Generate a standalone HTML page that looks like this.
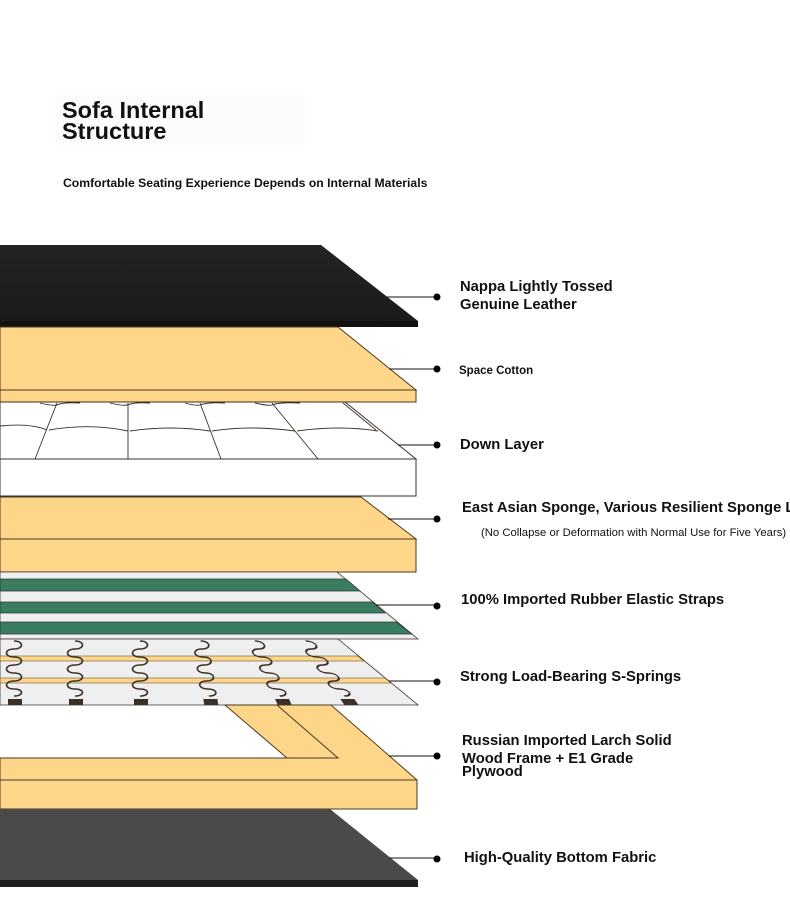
<!DOCTYPE html>
<html><head><meta charset="utf-8"><style>
html,body{margin:0;padding:0;background:#fff;width:790px;height:918px;overflow:hidden}
svg{display:block}
text{font-family:"Liberation Sans",Arial,sans-serif;fill:#111}
</style></head><body>
<svg width="790" height="918" viewBox="0 0 790 918" xmlns="http://www.w3.org/2000/svg">
<defs>
<linearGradient id="lea" x1="0" y1="0" x2="0" y2="1"><stop offset="0" stop-color="#232323"/><stop offset="1" stop-color="#1a1a1a"/></linearGradient>
<g id="spr"><path d="M0 641 c10 0 10 8 0 8 c-10 0 -10 8 0 8 c10 0 10 8 0 8 c-10 0 -10 8 0 8 c10 0 10 8 0 8 c-10 0 -10 8 0 8 c10 0 10 7 0 7" fill="none" stroke="#3a3028" stroke-width="1.6"/><rect x="-6" y="699" width="14" height="6" fill="#3a3028"/></g>
</defs>
<rect x="55" y="95" width="250" height="50" fill="#fcfcfc"/>
<text x="62" y="118" font-size="23.5" style="font-weight:600">Sofa Internal</text>
<text x="62" y="139" font-size="23.5" style="font-weight:600">Structure</text>
<text x="63" y="187" font-size="12.2" style="font-weight:600">Comfortable Seating Experience Depends on Internal Materials</text>

<!-- leather -->
<polygon points="0,245 321,245 418,321 418,327 0,327" fill="url(#lea)"/>
<rect x="0" y="321" width="418" height="6" fill="#111"/>
<!-- space cotton -->
<polygon points="0,327 338,327 416,390 0,390" fill="#fed68a" stroke="#4a3a20" stroke-width="1"/>
<rect x="0" y="390" width="416" height="12" fill="#fed68a" stroke="#4a3a20" stroke-width="1"/>
<!-- down -->
<polygon points="0,402 345,402 416,459 0,459" fill="#fff" stroke="#3a3028" stroke-width="1"/>
<rect x="0" y="459" width="416" height="37" fill="#fff" stroke="#3a3028" stroke-width="1"/>
<g fill="none" stroke="#3a3028" stroke-width="0.9">
<path d="M57 403 L35 459 M128 403 L128 459 M200 403 L221 459 M272 403 L318 459 M343 403 L376 430"/>
<path d="M0 426 Q30 423 47 430 M49 430 Q90 423 128 431 M130 431 Q170 425 210 431 M212 431 Q250 425 295 431 M297 431 Q340 425 378 431"/>
<path d="M40 403 Q52 406 57 405 Q64 402 80 403 M110 403 Q122 406 128 405 Q134 402 150 403 M185 403 Q196 406 200 405 Q208 402 225 403 M255 403 Q268 406 272 405 Q280 402 300 403"/>
</g>
<!-- sponge -->
<polygon points="0,497 361,497 416,539 0,539" fill="#fed68a" stroke="#4a3a20" stroke-width="1"/>
<rect x="0" y="539" width="416" height="33" fill="#fed68a" stroke="#4a3a20" stroke-width="1"/>
<!-- straps -->
<polygon points="0,572 337,572 418,639 0,639" fill="#efefef" stroke="#3a3028" stroke-width="0.8"/>
<polygon points="0,579 346,579 360,591 0,591" fill="#3a7c60" stroke="#2a3a30" stroke-width="0.8"/>
<polygon points="0,602 372,602 385,613 0,613" fill="#3a7c60" stroke="#2a3a30" stroke-width="0.8"/>
<polygon points="0,622 396,622 412,634 0,634" fill="#3a7c60" stroke="#2a3a30" stroke-width="0.8"/>
<!-- springs -->
<polygon points="0,639 338,639 418,705 0,705" fill="#efefef" stroke="#3a3028" stroke-width="0.8"/>
<polygon points="0,656 358,656 364,661 0,661" fill="#fed68a" stroke="#4a3a20" stroke-width="0.6"/>
<polygon points="0,678 385,678 391,683 0,683" fill="#fed68a" stroke="#4a3a20" stroke-width="0.6"/>
<use href="#spr" x="14"/>
<use href="#spr" x="75"/>
<use href="#spr" x="140"/>
<g transform="matrix(1,0,0.15,1,-100.5,0)"><use href="#spr" x="205"/></g>
<g transform="matrix(1,0,0.45,1,-301.5,0)"><use href="#spr" x="268"/></g>
<g transform="matrix(1,0,0.7,1,-469,0)"><use href="#spr" x="326"/></g>
<!-- frame -->
<polygon points="0,758 287,758 225,705 331,705 417,780 417,809 0,809" fill="#fed68a" stroke="#4a3a20" stroke-width="1"/>
<path d="M277 705 L338 758 L287 758 M0 780 L417 780" fill="none" stroke="#4a3a20" stroke-width="1"/>
<!-- bottom fabric -->
<polygon points="0,809 330,809 418,880 418,887 0,887" fill="#4a4a4a"/>
<rect x="0" y="880" width="418" height="7" fill="#1f1f1f"/>

<!-- leaders -->
<g stroke="#111" stroke-width="1">
<line x1="387" y1="297" x2="437" y2="297"/>
<line x1="389" y1="369" x2="437" y2="369"/>
<line x1="398" y1="445" x2="437" y2="445"/>
<line x1="388" y1="519" x2="437" y2="519"/>
<line x1="376" y1="605" x2="437" y2="605"/>
<line x1="389" y1="681" x2="437" y2="681"/>
<line x1="389" y1="756" x2="437" y2="756"/>
<line x1="389" y1="858" x2="437" y2="858"/>
</g>
<g fill="#000">
<circle cx="437" cy="297" r="3.5"/><circle cx="437" cy="369" r="3.5"/><circle cx="437" cy="445" r="3.5"/><circle cx="437" cy="519" r="3.5"/>
<circle cx="437" cy="606" r="3.5"/><circle cx="437" cy="682" r="3.5"/><circle cx="437" cy="756" r="3.5"/><circle cx="437" cy="859" r="3.5"/>
</g>
<g font-size="14.8" style="font-weight:600">
<text x="460" y="291">Nappa Lightly Tossed</text>
<text x="460" y="309">Genuine Leather</text>
<text x="459" y="374" font-size="11.5">Space Cotton</text>
<text x="460" y="449">Down Layer</text>
<text x="462" y="512">East Asian Sponge, Various Resilient Sponge Layers</text>
<text x="481" y="536" font-size="11.3" style="font-weight:500">(No Collapse or Deformation with Normal Use for Five Years)</text>
<text x="461" y="604">100% Imported Rubber Elastic Straps</text>
<text x="460" y="681">Strong Load-Bearing S-Springs</text>
<text x="462" y="745">Russian Imported Larch Solid</text>
<text x="462" y="763">Wood Frame + E1 Grade</text>
<text x="462" y="776">Plywood</text>
<text x="464" y="862">High-Quality Bottom Fabric</text>
</g>
</svg>
</body></html>
